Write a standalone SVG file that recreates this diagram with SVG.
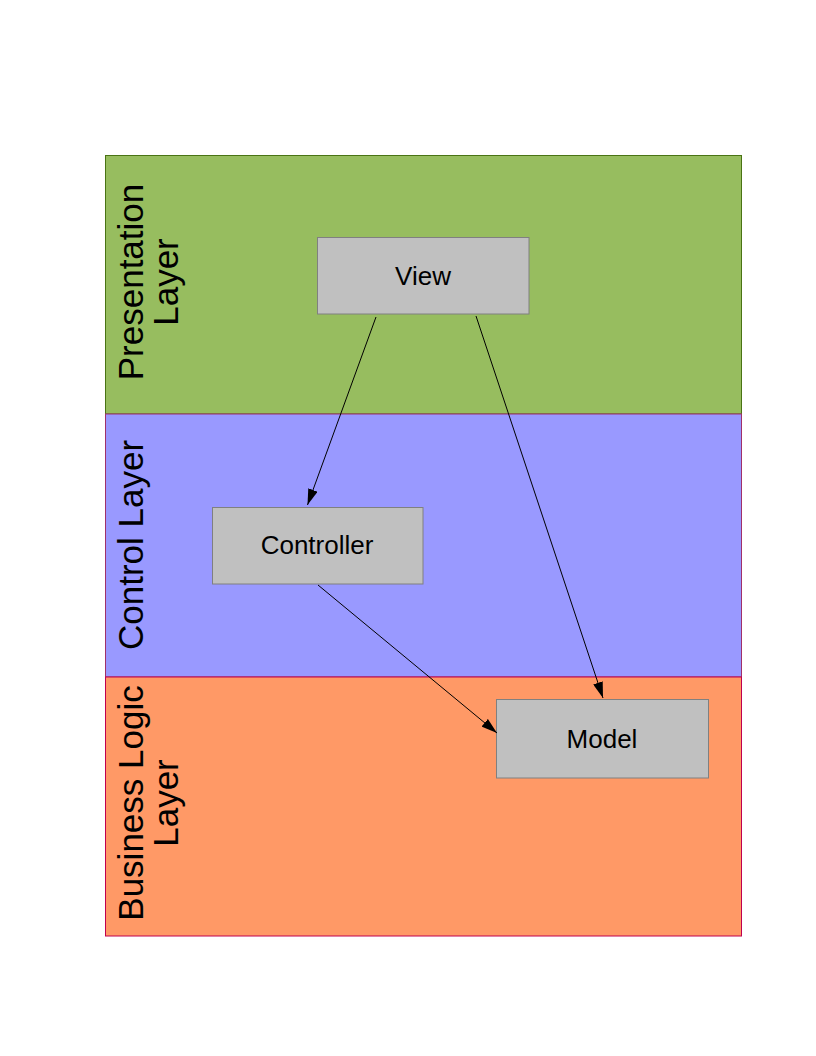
<svg xmlns="http://www.w3.org/2000/svg" width="816" height="1056" viewBox="0 0 816 1056">
<style>
.lbl{font-family:"Liberation Sans",Arial,sans-serif;font-size:35px;fill:#000;text-anchor:middle}
.nlbl{font-family:"Liberation Sans",Arial,sans-serif;font-size:26px;fill:#000;text-anchor:middle}
.box{fill:#c0c0c0;stroke:#808080;stroke-width:1}
.edge{stroke:#000;stroke-width:1;fill:none;marker-end:url(#ah)}
</style>
<defs>
<marker id="ah" viewBox="0 0 16 10" refX="16" refY="5" markerWidth="16" markerHeight="10" markerUnits="userSpaceOnUse" orient="auto">
<path d="M0,0 L16,5 L0,10 Z" fill="#000"/>
</marker>
</defs>
<rect width="816" height="1056" fill="#fff"/>
<g id="presentation-layer">
<rect x="105.5" y="155.5" width="636" height="258.5" fill="#97bd5f" stroke="#4a7314" stroke-width="1"/>
<text class="lbl" transform="translate(143,282) rotate(-90)">Presentation</text>
<text class="lbl" transform="translate(178,282) rotate(-90)">Layer</text>
</g>
<g id="control-layer">
<rect x="105.5" y="414" width="636" height="263" fill="#9999ff" stroke="#a0306a" stroke-width="1"/>
<text class="lbl" transform="translate(143,545) rotate(-90)">Control Layer</text>
</g>
<g id="business-layer">
<rect x="105.5" y="677" width="636" height="259" fill="#ff9966" stroke="#c0004f" stroke-width="1"/>
<text class="lbl" transform="translate(143,803) rotate(-90)">Business Logic</text>
<text class="lbl" transform="translate(178,803) rotate(-90)">Layer</text>
</g>
<g id="view">
<rect class="box" x="317.5" y="237.5" width="211.5" height="76.5"/>
<text class="nlbl" x="423" y="285">View</text>
</g>
<g id="controller">
<rect class="box" x="212.5" y="507.5" width="210.5" height="76.5"/>
<text class="nlbl" x="317" y="554">Controller</text>
</g>
<g id="model">
<rect class="box" x="496.5" y="699.5" width="212" height="78.5"/>
<text class="nlbl" x="602" y="748">Model</text>
</g>
<g id="connectors">
<line class="edge" x1="376" y1="317" x2="307.5" y2="505"/>
<line class="edge" x1="476" y1="316" x2="603" y2="698"/>
<line class="edge" x1="318" y1="585" x2="497" y2="733"/>
</g>
</svg>
